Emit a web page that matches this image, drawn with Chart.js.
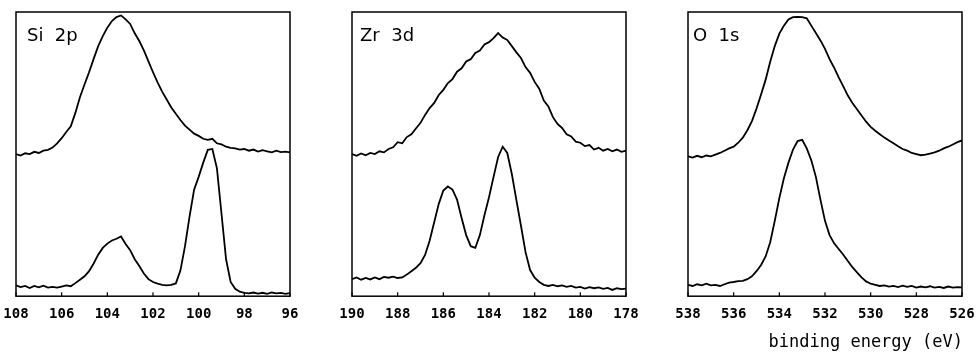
<!DOCTYPE html>
<html>
<head>
<meta charset="utf-8">
<script src="https://cdn.jsdelivr.net/npm/chart.js@4/dist/chart.umd.min.js"></script>
<style>
  body { margin: 0; background: #fff; }
  #wrap { position: relative; width: 979px; height: 356px; }
  .panel { position: absolute; top: 0; }
  #xlabel {
    position: absolute; right: 16px; top: 331px; white-space: nowrap;
    font: 17px/20px "DejaVu Sans Mono", monospace; color: #000;
  }
</style>
</head>
<body>
<div id="wrap">
  <canvas id="siChart" class="panel" width="322" height="341" style="left:-8px"></canvas>
  <canvas id="zrChart" class="panel" width="322" height="341" style="left:328px"></canvas>
  <canvas id="oChart" class="panel" width="322" height="341" style="left:664px"></canvas>
  <div id="xlabel">binding energy (eV)</div>
</div>
<script>
// spectra sampled every 0.2 eV, high binding energy first
const siStart = 108, zrStart = 190, oStart = 538;

const siTop = [
  50.0, 49.5, 50.3, 50.0, 50.8, 50.4, 51.2, 51.5, 52.3, 53.8,
  55.6, 57.8, 59.8, 64.5, 70.0, 74.5, 78.8, 83.5, 88.0, 91.5,
  94.5, 96.8, 98.2, 98.8, 97.4, 95.8, 92.5, 89.8, 86.5, 82.6,
  78.8, 75.2, 72.0, 69.2, 66.4, 64.2, 62.0, 60.0, 58.6, 57.2,
  56.4, 55.4, 55.0, 55.4, 53.8, 53.4, 52.6, 52.2, 52.0, 51.6,
  51.8, 51.2, 51.6, 50.9, 51.4, 51.0, 50.6, 51.2, 50.7, 50.9,
  50.6
];
const siBottom = [
  3.8, 3.2, 3.6, 2.9, 3.6, 3.1, 3.7, 3.0, 3.3, 3.0,
  3.4, 3.8, 3.5, 4.6, 5.8, 7.0, 8.8, 11.5, 14.6, 17.0,
  18.5, 19.6, 20.2, 21.0, 18.4, 16.2, 13.0, 10.6, 8.0, 6.0,
  5.0, 4.4, 4.0, 3.8, 4.0, 4.5, 9.0, 17.5, 28.0, 37.5,
  42.0, 47.0, 51.5, 51.8, 45.0, 29.0, 13.0, 5.0, 2.6, 1.6,
  1.2, 1.0, 1.3, 0.9, 1.2, 0.8, 1.3, 1.0, 1.2, 0.8,
  1.1
];

const zrTop = [
  50.0, 49.4, 50.2, 49.6, 50.4, 50.0, 51.0, 50.6, 51.8, 52.4,
  54.2, 53.8, 56.0, 57.0, 59.0, 61.0, 63.8, 66.2, 68.0, 70.8,
  72.6, 75.0, 76.4, 79.0, 80.2, 82.6, 83.4, 85.6, 86.4, 88.6,
  89.4, 90.8, 92.6, 91.0, 90.2, 88.0, 85.8, 83.8, 80.6, 78.6,
  75.4, 73.0, 68.8, 66.8, 63.0, 60.6, 59.2, 57.0, 56.2, 54.4,
  54.0, 52.8, 53.2, 51.6, 52.2, 51.2, 51.8, 51.0, 51.6, 50.8,
  51.2
];
const zrBottom = [
  6.0, 6.6, 5.8, 6.4, 5.9, 6.6, 6.0, 6.8, 6.5, 6.9,
  6.4, 6.6, 7.6, 8.8, 10.0, 11.6, 14.5, 19.5, 26.0, 32.5,
  37.2, 38.6, 37.5, 34.0, 27.5, 21.5, 17.6, 17.0, 21.5, 28.5,
  34.8, 42.0, 49.0, 52.6, 50.4, 43.0, 33.8, 24.8, 15.5, 9.2,
  6.5, 5.0, 4.0, 3.6, 4.0, 3.5, 3.8, 3.3, 3.6, 3.0,
  3.3, 2.7, 3.2, 2.8, 3.1, 2.6, 2.9, 2.2, 2.8, 2.5,
  2.7
];

const oTop = [
  49.2, 48.8, 49.4, 48.9, 49.5, 49.2, 49.8, 50.4, 51.2, 52.0,
  52.6, 54.0, 55.8, 58.4, 61.6, 66.0, 71.0, 76.2, 82.5, 88.0,
  92.4, 95.2, 97.4, 98.2, 98.3, 98.2, 97.8, 95.2, 92.6, 90.0,
  87.0, 83.4, 80.4, 77.0, 73.8, 70.6, 68.0, 65.8, 63.6, 61.4,
  59.6, 58.2, 57.0, 55.8, 54.8, 53.8, 52.8, 51.8, 51.2, 50.4,
  50.0, 49.6, 49.8, 50.2, 50.6, 51.2, 52.0, 52.6, 53.4, 54.2,
  54.8
];
const oBottom = [
  4.0, 3.6, 4.2, 3.8, 4.4, 3.8, 4.0, 3.6, 4.2, 4.8,
  5.0, 5.3, 5.4, 6.0, 7.0, 8.8, 11.0, 14.0, 19.0, 26.5,
  34.5, 41.5, 47.0, 51.6, 54.6, 55.0, 52.0, 47.8, 42.0, 34.0,
  26.5, 21.5, 18.6, 16.6, 14.6, 12.4, 10.2, 8.4, 6.6, 5.2,
  4.4, 4.0, 3.6, 3.8, 3.4, 3.6, 3.2, 3.7, 3.3, 3.6,
  3.0, 3.4, 3.1, 3.5, 3.0, 3.3, 2.9, 3.4, 3.0, 3.2,
  3.1
];

// frame, inward bottom ticks and the core-level name
const panelPlugin = {
  id: 'panel',
  afterDatasetsDraw(chart, args, opts) {
    const { ctx, chartArea: a, scales: { x } } = chart;
    ctx.save();
    ctx.strokeStyle = '#000';
    ctx.lineWidth = 1.5;
    ctx.strokeRect(a.left, a.top, a.right - a.left, a.bottom - a.top);
    ctx.lineWidth = 1.2;
    x.ticks.forEach(t => {
      const px = x.getPixelForValue(t.value);
      ctx.beginPath();
      ctx.moveTo(px, a.bottom);
      ctx.lineTo(px, a.bottom - 4);
      ctx.stroke();
    });
    ctx.fillStyle = '#000';
    ctx.font = '18px "DejaVu Sans"';
    ctx.textBaseline = 'alphabetic';
    ctx.fillText(opts.text, a.left + opts.dx, a.top + 29);
    ctx.restore();
  }
};

function makeChart(id, start, top, bottom, name, dx) {
  const energy = top.map((_, i) => +(start - i * 0.2).toFixed(1));
  const line = vals => ({
    data: vals.map((v, i) => ({ x: energy[i], y: v })),
    borderColor: '#000',
    borderWidth: 1.8,
    pointRadius: 0,
    tension: 0,
    fill: false
  });
  new Chart(document.getElementById(id), {
    type: 'line',
    data: { datasets: [line(top), line(bottom)] },
    options: {
      responsive: false,
      animation: false,
      layout: { padding: { left: 24, right: 24, top: 12, bottom: 8 } },
      plugins: {
        legend: { display: false },
        tooltip: { enabled: false },
        panel: { text: name, dx: dx }
      },
      scales: {
        x: {
          type: 'linear',
          reverse: true,
          min: start - 12,
          max: start,
          grid: { display: false, drawTicks: false },
          border: { display: false },
          ticks: {
            stepSize: 2,
            padding: 10,
            color: '#000',
            font: { family: '"DejaVu Sans Mono", monospace', size: 14, weight: 'bold' }
          }
        },
        y: { display: false, min: 0, max: 100 }
      }
    },
    plugins: [panelPlugin]
  });
}

makeChart('siChart', siStart, siTop, siBottom, 'Si  2p', 11);
makeChart('zrChart', zrStart, zrTop, zrBottom, 'Zr  3d', 8);
makeChart('oChart', oStart, oTop, oBottom, 'O  1s', 5);
</script>
</body>
</html>
